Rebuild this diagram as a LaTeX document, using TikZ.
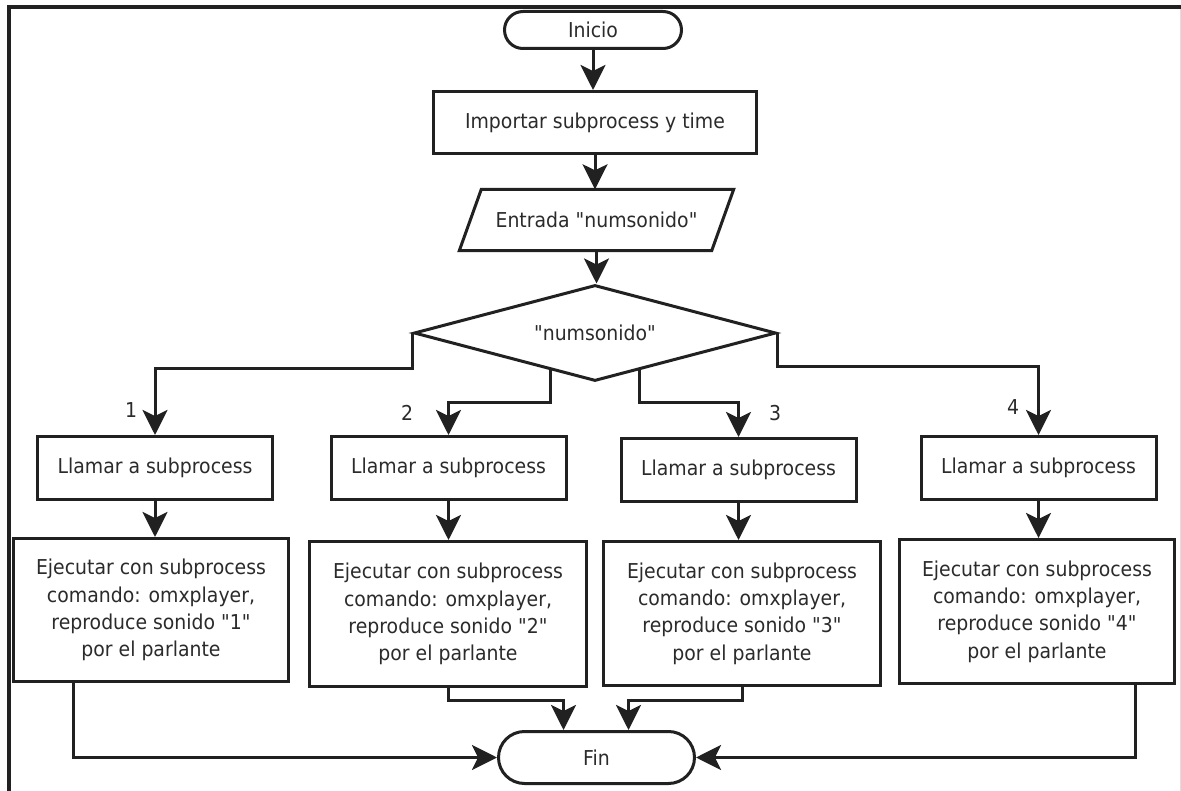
\documentclass[tikz,border=0pt]{standalone}
\usepackage{fontspec}
\setmainfont{DejaVu Sans}[FakeStretch=0.92,Ligatures=TeXOff]
\usetikzlibrary{arrows.meta,shapes.geometric,calc}
\definecolor{ink}{gray}{0.13}
\definecolor{txt}{gray}{0.17}
\begin{document}
\begin{tikzpicture}[x=1pt,y=-1pt,
  every node/.style={text=txt,font=\fontsize{20.5}{27.3}\selectfont},
  shapebox/.style={draw=ink,line width=3pt,fill=white,inner sep=0pt,align=center},
  procbox/.style={shapebox,rectangle},
  termbox/.style={shapebox,rectangle,rounded corners=#1},
  decbox/.style={shapebox,diamond,aspect=3.77},
  arr/.style={draw=ink,line width=3pt,-{Stealth[length=25pt,width=25pt,inset=6pt]}},
  branch/.style={text=txt}]
\useasboundingbox (0,0) rectangle (1181,791);
\fill[white] (0,0) rectangle (1181,791);
% frame
\draw[ink,line width=4pt] (8.5,791) -- (8.5,7) -- (1181,7);
\draw[gray!25,line width=1pt] (1180,9) -- (1180,791);

% main column
\node[termbox=18.5pt,minimum width=177pt,minimum height=37pt] (ini) at (593,30) {Inicio};
\node[procbox,minimum width=323pt,minimum height=62pt] (imp) at (595,122.5) {Importar subprocess y time};
% input step: text node with a slanted outline drawn from its corners
\node[inner sep=0pt,minimum width=252pt,minimum height=61pt] (ent) at (596.5,220) {Entrada "numsonido"};
\draw[ink,line width=3pt,line join=miter]
  ($(ent.north west)+(11,0)$) -- ($(ent.north east)+(11,0)$) --
  ($(ent.south east)+(-11,0)$) -- ($(ent.south west)+(-11,0)$) -- cycle;
\node[decbox,minimum width=362pt,minimum height=96pt] (dec) at (595,333) {"numsonido"};

% branch boxes
\node[procbox,minimum width=235pt,minimum height=63pt] (b1) at (155,468) {Llamar a subprocess};
\node[procbox,minimum width=235pt,minimum height=63pt] (b2) at (448.5,468) {Llamar a subprocess};
\node[procbox,minimum width=235pt,minimum height=63pt] (b3) at (738.5,470) {Llamar a subprocess};
\node[procbox,minimum width=235pt,minimum height=63pt] (b4) at (1038.5,468) {Llamar a subprocess};

\node[procbox,minimum width=275pt,minimum height=143pt] (e1) at (151,610) {Ejecutar con subprocess\\comando: omxplayer,\\reproduce sonido "1"\\por el parlante};
\node[procbox,minimum width=277pt,minimum height=145pt] (e2) at (448,614) {Ejecutar con subprocess\\comando: omxplayer,\\reproduce sonido "2"\\por el parlante};
\node[procbox,minimum width=277pt,minimum height=144pt] (e3) at (742,613.5) {Ejecutar con subprocess\\comando: omxplayer,\\reproduce sonido "3"\\por el parlante};
\node[procbox,minimum width=275pt,minimum height=144pt] (e4) at (1037,611.5) {Ejecutar con subprocess\\comando: omxplayer,\\reproduce sonido "4"\\por el parlante};

\node[termbox=26pt,minimum width=196pt,minimum height=52pt] (fin) at (596.5,757.5) {Fin};

% main flow
\draw[arr] (ini.south) -- (ini.south |- imp.north);
\draw[arr] (imp.south) -- (imp.south |- ent.north);
\draw[arr] (ent.south) -- (ent.south |- dec.north);

% decision branches
\coordinate (dl) at ($(dec.west)!0.755!(dec.south)$);
\coordinate (dr) at ($(dec.east)!0.755!(dec.south)$);
\draw[arr] (dec.west) -- ++(0,36) -| (b1.north);
\draw[arr] (dl) -- ++(0,32) -| (b2.north);
\draw[arr] (dr) -- ++(0,32) -| (b3.north);
\draw[arr] (dec.east) -- ++(0,34) -| (b4.north);

\node[branch] (l1) at (131,410) {1};
\node[branch] (l2) at (407,413) {2};
\node[branch] (l3) at (775,413) {3};
\node[branch] (l4) at (1013,407) {4};

% call to execute
\draw[arr] (b1.south) -- (b1.south |- e1.north);
\draw[arr] (b2.south) -- (b2.south |- e2.north);
\draw[arr] (b3.south) -- (b3.south |- e3.north);
\draw[arr] (b4.south) -- (b4.south |- e4.north);

% joins to the end
\draw[arr] ($(e1.south west)!0.22!(e1.south east)$) |- (fin.west);
\draw[arr] ($(e4.south west)!0.856!(e4.south east)$) |- (fin.east);
\draw[arr] (e2.south) -- ++(0,12) -| ($(fin.north)+(-33,0)$);
\draw[arr] (e3.south) -- ++(0,13) -| ($(fin.north)+(32,0)$);
\end{tikzpicture}
\end{document}
